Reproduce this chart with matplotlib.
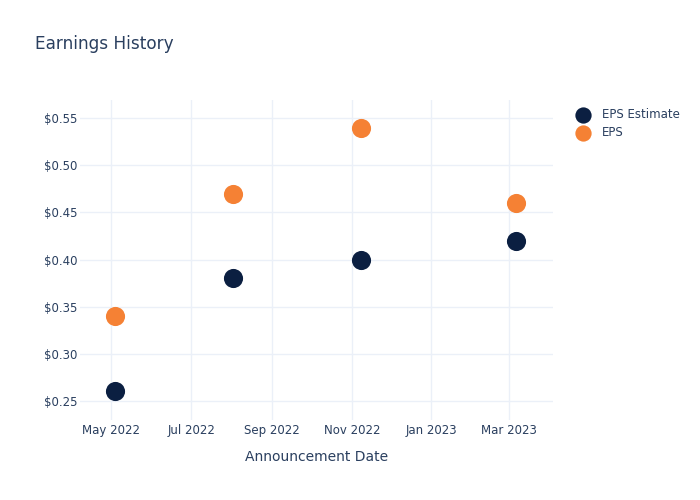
import datetime as dt

import matplotlib
matplotlib.use('Agg')
import matplotlib.pyplot as plt
import matplotlib.dates as mdates
from matplotlib.ticker import FuncFormatter

dates = [dt.date(2022, 5, 4), dt.date(2022, 8, 2), dt.date(2022, 11, 8), dt.date(2023, 3, 7)]
eps_estimate = [0.26, 0.38, 0.40, 0.42]
eps_actual = [0.34, 0.47, 0.54, 0.46]

TEXT = '#2a3f5f'
GRID = '#ebf0f8'
NAVY = '#0b1f41'
ORANGE = '#f58134'


def main():
    fig = plt.figure(figsize=(7, 5), dpi=100)
    ax = fig.add_axes([80 / 700, 80 / 500, 473 / 700, 320 / 500])

    ax.scatter(dates, eps_estimate, s=190, color=NAVY, label='EPS Estimate', zorder=3, linewidths=0)
    ax.scatter(dates, eps_actual, s=190, color=ORANGE, label='EPS', zorder=3, linewidths=0)

    ax.set_xlim(dt.date(2022, 4, 7), dt.date(2023, 4, 4))
    ax.set_ylim(0.2295, 0.5695)
    ax.xaxis.set_major_locator(mdates.MonthLocator(bymonth=[1, 3, 5, 7, 9, 11]))
    ax.xaxis.set_major_formatter(mdates.DateFormatter('%b %Y'))
    ax.set_yticks([0.25, 0.30, 0.35, 0.40, 0.45, 0.50, 0.55])
    ax.yaxis.set_major_formatter(FuncFormatter(lambda v, p: f'${v:.2f}'))

    ax.grid(True, color=GRID, linewidth=1)
    ax.set_axisbelow(True)
    for s in ax.spines.values():
        s.set_visible(False)
    ax.tick_params(length=0, labelsize=8.5, colors=TEXT)
    ax.tick_params(axis='y', pad=2)
    ax.tick_params(axis='x', pad=3)
    ax.set_xlabel('Announcement Date', fontsize=10, color=TEXT, labelpad=9)

    fig.text(35 / 700, 1 - 44 / 500, 'Earnings History', fontsize=12.2, color=TEXT, va='center')

    ax.legend(loc='upper left', bbox_to_anchor=(1.028, 0.99), frameon=False, fontsize=8.5,
              labelcolor=TEXT, handletextpad=0.6, borderaxespad=0, labelspacing=0.45,
              markerscale=0.85)

    fig.savefig('out.png', dpi=100)


if __name__ == '__main__':
    main()
